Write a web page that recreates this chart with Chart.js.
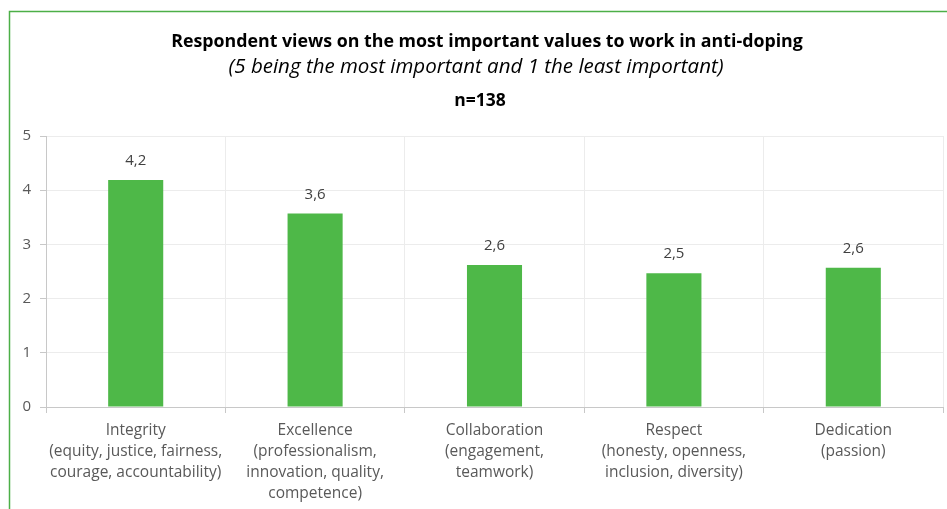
<!DOCTYPE html>
<html>
<head>
<meta charset="utf-8">
<script src="https://cdn.jsdelivr.net/npm/chart.js@4"></script>
<style>
  html, body { margin: 0; padding: 0; background: #fff; }
  #wrap { position: relative; width: 947px; height: 509px; }
</style>
</head>
<body>
<div id="wrap"><canvas id="values-chart"></canvas></div>
<script>
// average score per value (1-5 scale)
const categories = [
  ['Integrity', '(equity, justice, fairness,', 'courage, accountability)'],
  ['Excellence', '(professionalism,', 'innovation, quality,', 'competence)'],
  ['Collaboration', '(engagement,', 'teamwork)'],
  ['Respect', '(honesty, openness,', 'inclusion, diversity)'],
  ['Dedication', '(passion)']
];
const scores = [4.19, 3.57, 2.62, 2.47, 2.57];
const yTicks = [0, 1, 2, 3, 4, 5];

const FONT = "'Open Sans'";

const titleLines = [
  { text: 'Respondent views on the most important values to work in anti-doping', font: 'bold 17.8px ' + FONT, x: 487, y: 42 },
  { text: '(5 being the most important and 1 the least important)', font: 'italic 20.5px ' + FONT, x: 476, y: 67 },
  { text: 'n=138', font: 'bold 17.5px ' + FONT, x: 480, y: 101 }
];

const fmt = v => v.toFixed(1).replace('.', ',');

// green frame on the top and left edge + heading text
const frame = {
  id: 'frame',
  beforeDraw(chart) {
    const c = chart.ctx;
    c.save();
    c.strokeStyle = '#4caf47';
    c.lineWidth = 1.5;
    c.beginPath();
    c.moveTo(9.5, chart.height);
    c.lineTo(9.5, 11.5);
    c.lineTo(chart.width, 11.5);
    c.stroke();
    c.fillStyle = '#000';
    c.textAlign = 'center';
    c.textBaseline = 'middle';
    titleLines.forEach(t => {
      c.font = t.font;
      c.fillText(t.text, t.x, t.y);
    });
    c.restore();
  }
};

// value labels above each bar
const barLabels = {
  id: 'barLabels',
  afterDatasetsDraw(chart) {
    const c = chart.ctx;
    const meta = chart.getDatasetMeta(0);
    c.save();
    c.font = '15px ' + FONT;
    c.fillStyle = '#404040';
    c.textAlign = 'center';
    c.textBaseline = 'middle';
    meta.data.forEach((bar, i) => {
      c.fillText(fmt(scores[i]), bar.x, bar.y - 19);
    });
    c.restore();
  }
};

new Chart(document.getElementById('values-chart'), {
  type: 'bar',
  data: {
    labels: categories,
    datasets: [{
      data: scores,
      backgroundColor: '#4eb848',
      borderWidth: 0,
      categoryPercentage: 1,
      barPercentage: 0.307
    }]
  },
  options: {
    responsive: true,
    maintainAspectRatio: false,
    animation: false,
    layout: { padding: { left: 10, right: 4, top: 136, bottom: 0 } },
    plugins: {
      legend: { display: false },
      tooltip: { enabled: false }
    },
    scales: {
      x: {
        offset: true,
        grid: {
          offset: true,
          color: '#ececec',
          tickColor: '#c8c8c8',
          tickLength: 6
        },
        border: { color: '#c8c8c8', width: 1 },
        ticks: {
          color: '#595959',
          font: { family: FONT, size: 15.5, lineHeight: 1.355 },
          padding: 7,
          maxRotation: 0,
          autoSkip: false
        },
        afterFit(scale) { scale.height = 102; }
      },
      y: {
        min: 0,
        max: 5,
        afterBuildTicks(scale) { scale.ticks = yTicks.map(v => ({ value: v })); },
        grid: {
          color: '#ececec',
          tickColor: '#c8c8c8',
          tickLength: 6
        },
        border: { color: '#c8c8c8', width: 1 },
        ticks: {
          color: '#595959',
          font: { family: FONT, size: 15 },
          padding: 9
        },
        afterFit(scale) { scale.width = 36; }
      }
    }
  },
  plugins: [frame, barLabels]
});
</script>
</body>
</html>
